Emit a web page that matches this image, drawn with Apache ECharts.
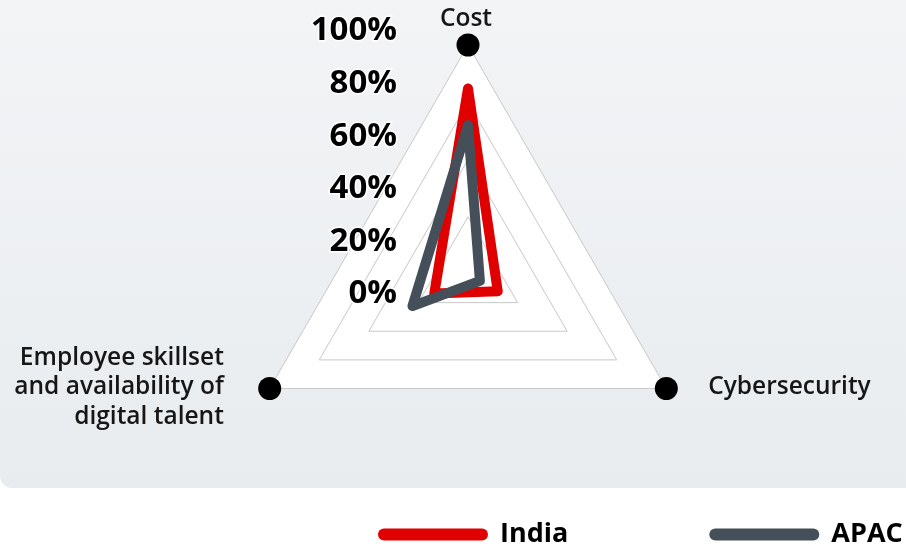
<!DOCTYPE html>
<html>
<head>
<meta charset="utf-8">
<script src="https://cdn.jsdelivr.net/npm/echarts@6/dist/echarts.min.js"></script>
<style>
html,body{margin:0;padding:0;background:#fff;}
#chart{width:906px;height:546px;}
</style>
</head>
<body>
<div id="chart"></div>
<script>
// Radar indicators (counter-clockwise from top)
var indicatorNames = ['Cost', 'Employee skillset\nand availability of\ndigital talent', 'Cybersecurity'];
var indicatorMax = [100, 100, 100];
// Series values (same order as indicators)
var indiaValues = [81, 17, 15];
var apacValues = [65, 28, 6];
// Vertex markers at the outer ring
var vertexValues = [100, 100, 100];
// Tick labels shown on the left
var tickLabels = ['0%', '20%', '40%', '60%', '80%', '100%'];
var seriesNames = ['India', 'APAC'];

var FONT = '"Open Sans", "Noto Sans", sans-serif';
var chart = echarts.init(document.getElementById('chart'), null, {renderer: 'canvas'});

var option = {
  animation: false,
  backgroundColor: '#ffffff',
  graphic: [{
    type: 'rect',
    z: -10,
    silent: true,
    shape: {x: 0, y: -20, width: 930, height: 508, r: [0, 0, 12, 12]},
    style: {
      fill: new echarts.graphic.LinearGradient(0, 0, 0, 1, [
        {offset: 0, color: '#f3f4f6'},
        {offset: 1, color: '#e8ecef'}
      ])
    }
  }],
  legend: {
    data: seriesNames,
    left: 373,
    top: 516,
    width: 700,
    itemWidth: 110,
    itemHeight: 12,
    itemGap: 141,
    icon: 'path://M6,0 L104,0 A6,6 0 0 1 104,12 L6,12 A6,6 0 0 1 6,0 Z',
    textStyle: {
      fontFamily: FONT,
      fontWeight: 'bold',
      fontSize: 27,
      color: '#000',
      padding: [0, 0, 0, 7]
    }
  },
  grid: {left: 405, width: 10, top: 31, bottom: 252, containLabel: false},
  xAxis: {type: 'value', show: false},
  yAxis: {
    type: 'category',
    data: tickLabels,
    boundaryGap: false,
    z: 20,
    axisLine: {show: false},
    axisTick: {show: false},
    splitLine: {show: false},
    axisLabel: {
      margin: 8,
      fontFamily: FONT,
      fontWeight: 'bold',
      fontSize: 33,
      color: '#000',
      textBorderColor: '#fff',
      textBorderWidth: 3
    }
  },
  radar: {
    center: [468, 274],
    radius: 229,
    startAngle: 90,
    splitNumber: 4,
    shape: 'polygon',
    indicator: indicatorNames.map(function (n, i) { return {name: n, max: indicatorMax[i], min: 0}; }),
    nameGap: -2.5,
    axisName: {
      color: '#161616',
      fontFamily: FONT,
      fontWeight: 600,
      fontSize: 24.5,
      lineHeight: 29.5,
      padding: [0, 48, 14, 44]
    },
    axisLine: {show: false},
    axisTick: {show: false},
    axisLabel: {show: false},
    splitLine: {lineStyle: {color: '#c8c8c8', width: 1}},
    splitArea: {show: true, areaStyle: {color: ['#ffffff']}}
  },
  series: [
    {
      type: 'radar',
      name: 'Vertices',
      silent: true,
      z: 5,
      symbol: 'circle',
      symbolSize: 23,
      itemStyle: {color: '#000'},
      lineStyle: {width: 0, opacity: 0},
      data: [{value: vertexValues, name: 'Vertices'}]
    },
    {
      type: 'radar',
      name: seriesNames[0],
      z: 3,
      symbol: 'none',
      color: '#e00000',
      lineStyle: {width: 10, color: '#e00000', cap: 'round', join: 'round'},
      data: [{value: indiaValues, name: seriesNames[0]}]
    },
    {
      type: 'radar',
      name: seriesNames[1],
      z: 4,
      symbol: 'none',
      color: '#444f59',
      lineStyle: {width: 10, color: '#444f59', cap: 'round', join: 'round'},
      data: [{value: apacValues, name: seriesNames[1]}]
    }
  ]
};
chart.setOption(option);
</script>
</body>
</html>
